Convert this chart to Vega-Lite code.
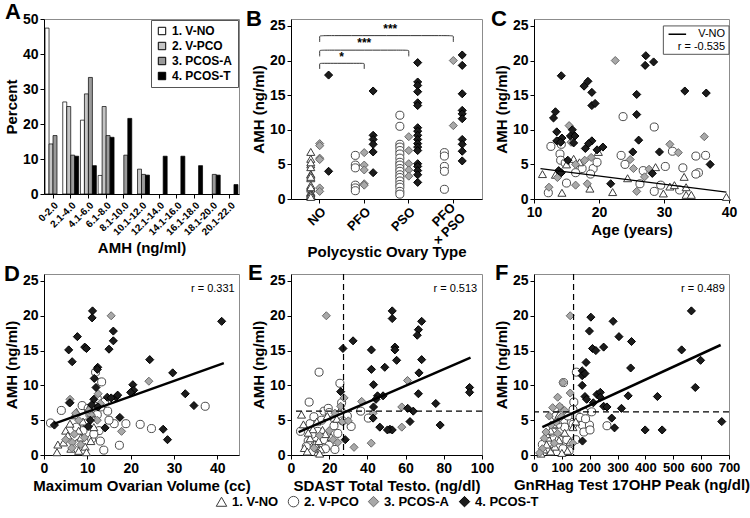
{
 "$schema": "https://vega.github.io/schema/vega-lite/v6.json",
 "padding": {"left": 3, "right": 0, "top": 0, "bottom": 3},
 "columns": 3,
 "bounds": "flush",
 "spacing": {"row": 75, "column": 52},
 "resolve": {
  "scale": {"x": "independent", "y": "independent", "xOffset": "independent", "color": "independent", "fill": "shared", "stroke": "shared", "shape": "shared"},
  "legend": {"color": "independent", "fill": "shared", "stroke": "shared", "shape": "shared"}
 },
 "datasets": {
  "histo": [
   {"bin": "0-2.0", "g": "V-NO", "pct": 47.4}, {"bin": "0-2.0", "g": "V-PCO", "pct": 14.3}, {"bin": "0-2.0", "g": "PCOS-A", "pct": 16.7},
   {"bin": "2.1-4.0", "g": "V-NO", "pct": 26.3}, {"bin": "2.1-4.0", "g": "V-PCO", "pct": 25.0}, {"bin": "2.1-4.0", "g": "PCOS-A", "pct": 11.1}, {"bin": "2.1-4.0", "g": "PCOS-T", "pct": 10.8},
   {"bin": "4.1-6.0", "g": "V-NO", "pct": 21.1}, {"bin": "4.1-6.0", "g": "V-PCO", "pct": 28.6}, {"bin": "4.1-6.0", "g": "PCOS-A", "pct": 33.3}, {"bin": "4.1-6.0", "g": "PCOS-T", "pct": 8.1},
   {"bin": "6.1-8.0", "g": "V-NO", "pct": 5.3}, {"bin": "6.1-8.0", "g": "V-PCO", "pct": 25.0}, {"bin": "6.1-8.0", "g": "PCOS-A", "pct": 16.7}, {"bin": "6.1-8.0", "g": "PCOS-T", "pct": 16.2},
   {"bin": "8.1-10.0", "g": "PCOS-A", "pct": 11.1}, {"bin": "8.1-10.0", "g": "PCOS-T", "pct": 21.6},
   {"bin": "10.1-12.0", "g": "V-PCO", "pct": 7.1}, {"bin": "10.1-12.0", "g": "PCOS-A", "pct": 5.6}, {"bin": "10.1-12.0", "g": "PCOS-T", "pct": 5.4},
   {"bin": "12.1-14.0", "g": "PCOS-T", "pct": 10.8},
   {"bin": "14.1-16.0", "g": "PCOS-T", "pct": 10.8},
   {"bin": "16.1-18.0", "g": "PCOS-T", "pct": 8.1},
   {"bin": "18.1-20.0", "g": "PCOS-A", "pct": 5.6}, {"bin": "18.1-20.0", "g": "PCOS-T", "pct": 5.4},
   {"bin": "20.1-22.0", "g": "PCOS-T", "pct": 2.7}
  ],
  "cohorts": [
   {"g": "V-NO", "cohort": "Volunteer"}, {"g": "V-PCO", "cohort": "Volunteer"}, {"g": "PCOS-A", "cohort": "PCOS-A"}, {"g": "PCOS-T", "cohort": "PCOS-T"}
  ],
  "bData": [
   {"t": "NO", "g": "V-NO", "amh": 3.6}, {"t": "NO", "g": "V-NO", "amh": 3.5}, {"t": "NO", "g": "V-NO", "amh": 0.9}, {"t": "NO", "g": "V-NO", "amh": 5.8}, {"t": "NO", "g": "V-NO", "amh": 5.0}, {"t": "NO", "g": "V-NO", "amh": 1.5}, {"t": "NO", "g": "V-NO", "amh": 6.8}, {"t": "NO", "g": "V-NO", "amh": 1.0}, {"t": "NO", "g": "V-NO", "amh": 3.0}, {"t": "NO", "g": "V-NO", "amh": 4.6}, {"t": "NO", "g": "V-NO", "amh": 0.8}, {"t": "NO", "g": "V-NO", "amh": 1.8}, {"t": "NO", "g": "V-NO", "amh": 2.0}, {"t": "NO", "g": "V-NO", "amh": 3.2}, {"t": "NO", "g": "V-NO", "amh": 1.7}, {"t": "NO", "g": "V-NO", "amh": 0.6}, {"t": "NO", "g": "V-NO", "amh": 0.6}, {"t": "NO", "g": "V-NO", "amh": 0.3}, {"t": "NO", "g": "V-NO", "amh": 5.3},
   {"t": "NO", "g": "PCOS-A", "amh": 8.0}, {"t": "NO", "g": "PCOS-A", "amh": 7.7}, {"t": "NO", "g": "PCOS-A", "amh": 5.9}, {"t": "NO", "g": "PCOS-A", "amh": 5.7}, {"t": "NO", "g": "PCOS-A", "amh": 1.6}, {"t": "NO", "g": "PCOS-A", "amh": 1.1},
   {"t": "NO", "g": "PCOS-T", "amh": 17.9}, {"t": "NO", "g": "PCOS-T", "amh": 4.0},
   {"t": "PFO", "g": "V-PCO", "amh": 6.3}, {"t": "PFO", "g": "V-PCO", "amh": 4.9}, {"t": "PFO", "g": "V-PCO", "amh": 4.5}, {"t": "PFO", "g": "V-PCO", "amh": 2.0}, {"t": "PFO", "g": "V-PCO", "amh": 1.6}, {"t": "PFO", "g": "V-PCO", "amh": 1.2},
   {"t": "PFO", "g": "PCOS-A", "amh": 6.7}, {"t": "PFO", "g": "PCOS-A", "amh": 4.9}, {"t": "PFO", "g": "PCOS-A", "amh": 4.2}, {"t": "PFO", "g": "PCOS-A", "amh": 2.2}, {"t": "PFO", "g": "PCOS-A", "amh": 2.0},
   {"t": "PFO", "g": "PCOS-T", "amh": 15.6}, {"t": "PFO", "g": "PCOS-T", "amh": 9.2}, {"t": "PFO", "g": "PCOS-T", "amh": 8.6}, {"t": "PFO", "g": "PCOS-T", "amh": 7.9}, {"t": "PFO", "g": "PCOS-T", "amh": 6.8}, {"t": "PFO", "g": "PCOS-T", "amh": 3.8},
   {"t": "PSO", "g": "V-PCO", "amh": 12.1}, {"t": "PSO", "g": "V-PCO", "amh": 10.5}, {"t": "PSO", "g": "V-PCO", "amh": 7.9}, {"t": "PSO", "g": "V-PCO", "amh": 7.5}, {"t": "PSO", "g": "V-PCO", "amh": 7.0}, {"t": "PSO", "g": "V-PCO", "amh": 6.5}, {"t": "PSO", "g": "V-PCO", "amh": 5.9}, {"t": "PSO", "g": "V-PCO", "amh": 5.3}, {"t": "PSO", "g": "V-PCO", "amh": 4.9}, {"t": "PSO", "g": "V-PCO", "amh": 4.4}, {"t": "PSO", "g": "V-PCO", "amh": 4.0}, {"t": "PSO", "g": "V-PCO", "amh": 3.5}, {"t": "PSO", "g": "V-PCO", "amh": 3.1}, {"t": "PSO", "g": "V-PCO", "amh": 2.6}, {"t": "PSO", "g": "V-PCO", "amh": 2.1}, {"t": "PSO", "g": "V-PCO", "amh": 1.7}, {"t": "PSO", "g": "V-PCO", "amh": 1.1}, {"t": "PSO", "g": "V-PCO", "amh": 0.7},
   {"t": "PSO", "g": "PCOS-A", "amh": 9.0}, {"t": "PSO", "g": "PCOS-A", "amh": 7.0}, {"t": "PSO", "g": "PCOS-A", "amh": 5.1}, {"t": "PSO", "g": "PCOS-A", "amh": 4.2}, {"t": "PSO", "g": "PCOS-A", "amh": 3.3},
   {"t": "PSO", "g": "PCOS-T", "amh": 19.7}, {"t": "PSO", "g": "PCOS-T", "amh": 16.9}, {"t": "PSO", "g": "PCOS-T", "amh": 16.4}, {"t": "PSO", "g": "PCOS-T", "amh": 15.5}, {"t": "PSO", "g": "PCOS-T", "amh": 13.9}, {"t": "PSO", "g": "PCOS-T", "amh": 13.5}, {"t": "PSO", "g": "PCOS-T", "amh": 10.3}, {"t": "PSO", "g": "PCOS-T", "amh": 9.8}, {"t": "PSO", "g": "PCOS-T", "amh": 9.2}, {"t": "PSO", "g": "PCOS-T", "amh": 8.6}, {"t": "PSO", "g": "PCOS-T", "amh": 8.0}, {"t": "PSO", "g": "PCOS-T", "amh": 7.5}, {"t": "PSO", "g": "PCOS-T", "amh": 7.0}, {"t": "PSO", "g": "PCOS-T", "amh": 5.1}, {"t": "PSO", "g": "PCOS-T", "amh": 4.7}, {"t": "PSO", "g": "PCOS-T", "amh": 4.1}, {"t": "PSO", "g": "PCOS-T", "amh": 3.5}, {"t": "PSO", "g": "PCOS-T", "amh": 2.4},
   {"t": "PFO×PSO", "g": "V-PCO", "amh": 6.7}, {"t": "PFO×PSO", "g": "V-PCO", "amh": 6.2}, {"t": "PFO×PSO", "g": "V-PCO", "amh": 4.7}, {"t": "PFO×PSO", "g": "V-PCO", "amh": 4.0}, {"t": "PFO×PSO", "g": "V-PCO", "amh": 1.4},
   {"t": "PFO×PSO", "g": "PCOS-A", "amh": 20.0}, {"t": "PFO×PSO", "g": "PCOS-A", "amh": 10.6},
   {"t": "PFO×PSO", "g": "PCOS-T", "amh": 20.8}, {"t": "PFO×PSO", "g": "PCOS-T", "amh": 19.3}, {"t": "PFO×PSO", "g": "PCOS-T", "amh": 15.2}, {"t": "PFO×PSO", "g": "PCOS-T", "amh": 12.8}, {"t": "PFO×PSO", "g": "PCOS-T", "amh": 12.3}, {"t": "PFO×PSO", "g": "PCOS-T", "amh": 11.6}, {"t": "PFO×PSO", "g": "PCOS-T", "amh": 8.6}, {"t": "PFO×PSO", "g": "PCOS-T", "amh": 7.9}, {"t": "PFO×PSO", "g": "PCOS-T", "amh": 6.9}, {"t": "PFO×PSO", "g": "PCOS-T", "amh": 5.5}
  ],
  "brackets": [
   {"br": 1, "o": 1, "t": "NO", "amh": 18.8}, {"br": 1, "o": 2, "t": "NO", "amh": 19.6}, {"br": 1, "o": 3, "t": "NO", "amh": 19.6}, {"br": 1, "o": 4, "t": "PFO", "amh": 19.6}, {"br": 1, "o": 5, "t": "PFO", "amh": 19.6}, {"br": 1, "o": 6, "t": "PFO", "amh": 18.8},
   {"br": 2, "o": 1, "t": "NO", "amh": 20.6}, {"br": 2, "o": 2, "t": "NO", "amh": 21.5}, {"br": 2, "o": 3, "t": "NO", "amh": 21.5}, {"br": 2, "o": 4, "t": "PSO", "amh": 21.5}, {"br": 2, "o": 5, "t": "PSO", "amh": 21.5}, {"br": 2, "o": 6, "t": "PSO", "amh": 20.6},
   {"br": 3, "o": 1, "t": "NO", "amh": 22.7}, {"br": 3, "o": 2, "t": "NO", "amh": 23.6}, {"br": 3, "o": 3, "t": "NO", "amh": 23.6}, {"br": 3, "o": 4, "t": "PFO×PSO", "amh": 23.6}, {"br": 3, "o": 5, "t": "PFO×PSO", "amh": 23.6}, {"br": 3, "o": 6, "t": "PFO×PSO", "amh": 22.7}
  ],
  "cData": [
   {"g": "V-PCO", "age": 23.7, "amh": 11.9}, {"g": "V-PCO", "age": 28.5, "amh": 10.4}, {"g": "V-PCO", "age": 12.6, "amh": 7.6}, {"g": "V-PCO", "age": 14.2, "amh": 7.9}, {"g": "V-PCO", "age": 14.0, "amh": 6.5}, {"g": "V-PCO", "age": 14.1, "amh": 5.6}, {"g": "V-PCO", "age": 17.4, "amh": 4.4}, {"g": "V-PCO", "age": 19.1, "amh": 4.4}, {"g": "V-PCO", "age": 19.7, "amh": 5.3}, {"g": "V-PCO", "age": 23.4, "amh": 6.3}, {"g": "V-PCO", "age": 24.0, "amh": 5.0}, {"g": "V-PCO", "age": 26.8, "amh": 4.1}, {"g": "V-PCO", "age": 26.3, "amh": 2.2}, {"g": "V-PCO", "age": 30.2, "amh": 4.7}, {"g": "V-PCO", "age": 31.3, "amh": 6.9}, {"g": "V-PCO", "age": 32.9, "amh": 4.5}, {"g": "V-PCO", "age": 34.9, "amh": 6.2}, {"g": "V-PCO", "age": 35.3, "amh": 3.8}, {"g": "V-PCO", "age": 36.4, "amh": 6.3}, {"g": "V-PCO", "age": 12.2, "amh": 0.9}, {"g": "V-PCO", "age": 15.0, "amh": 2.3}, {"g": "V-PCO", "age": 28.5, "amh": 1.1}, {"g": "V-PCO", "age": 29.5, "amh": 2.0}, {"g": "V-PCO", "age": 32.4, "amh": 1.3}, {"g": "V-PCO", "age": 34.9, "amh": 3.6}, {"g": "V-PCO", "age": 16.4, "amh": 3.8}, {"g": "V-PCO", "age": 14.8, "amh": 5.2}, {"g": "V-PCO", "age": 18.7, "amh": 3.6},
   {"g": "V-NO", "age": 11.3, "amh": 3.6}, {"g": "V-NO", "age": 13.3, "amh": 3.5}, {"g": "V-NO", "age": 14.3, "amh": 0.9}, {"g": "V-NO", "age": 16.1, "amh": 5.8}, {"g": "V-NO", "age": 15.0, "amh": 5.0}, {"g": "V-NO", "age": 18.6, "amh": 1.5}, {"g": "V-NO", "age": 19.9, "amh": 6.8}, {"g": "V-NO", "age": 22.1, "amh": 1.0}, {"g": "V-NO", "age": 24.4, "amh": 3.0}, {"g": "V-NO", "age": 28.7, "amh": 4.6}, {"g": "V-NO", "age": 29.9, "amh": 0.8}, {"g": "V-NO", "age": 30.9, "amh": 1.8}, {"g": "V-NO", "age": 31.6, "amh": 2.0}, {"g": "V-NO", "age": 33.1, "amh": 3.2}, {"g": "V-NO", "age": 33.4, "amh": 1.7}, {"g": "V-NO", "age": 33.4, "amh": 0.6}, {"g": "V-NO", "age": 34.2, "amh": 0.6}, {"g": "V-NO", "age": 39.6, "amh": 0.3}, {"g": "V-NO", "age": 17.0, "amh": 5.3},
   {"g": "PCOS-A", "age": 22.5, "amh": 20.0}, {"g": "PCOS-A", "age": 15.4, "amh": 10.6}, {"g": "PCOS-A", "age": 15.7, "amh": 8.2}, {"g": "PCOS-A", "age": 18.8, "amh": 6.0}, {"g": "PCOS-A", "age": 24.8, "amh": 5.7}, {"g": "PCOS-A", "age": 25.3, "amh": 4.4}, {"g": "PCOS-A", "age": 27.0, "amh": 3.2}, {"g": "PCOS-A", "age": 27.7, "amh": 4.3}, {"g": "PCOS-A", "age": 30.9, "amh": 7.9}, {"g": "PCOS-A", "age": 32.2, "amh": 6.7}, {"g": "PCOS-A", "age": 36.2, "amh": 9.0}, {"g": "PCOS-A", "age": 12.3, "amh": 1.7}, {"g": "PCOS-A", "age": 16.4, "amh": 2.0}, {"g": "PCOS-A", "age": 18.2, "amh": 2.2}, {"g": "PCOS-A", "age": 25.8, "amh": 1.1}, {"g": "PCOS-A", "age": 13.6, "amh": 3.1}, {"g": "PCOS-A", "age": 16.4, "amh": 5.0}, {"g": "PCOS-A", "age": 17.8, "amh": 5.6},
   {"g": "PCOS-T", "age": 14.2, "amh": 17.8}, {"g": "PCOS-T", "age": 17.7, "amh": 16.3}, {"g": "PCOS-T", "age": 18.3, "amh": 17.0}, {"g": "PCOS-T", "age": 18.9, "amh": 15.4}, {"g": "PCOS-T", "age": 18.9, "amh": 13.5}, {"g": "PCOS-T", "age": 19.4, "amh": 13.8}, {"g": "PCOS-T", "age": 13.3, "amh": 12.6}, {"g": "PCOS-T", "age": 13.0, "amh": 11.7}, {"g": "PCOS-T", "age": 13.5, "amh": 9.7}, {"g": "PCOS-T", "age": 15.9, "amh": 10.0}, {"g": "PCOS-T", "age": 15.6, "amh": 9.1}, {"g": "PCOS-T", "age": 14.3, "amh": 8.8}, {"g": "PCOS-T", "age": 13.5, "amh": 8.4}, {"g": "PCOS-T", "age": 16.3, "amh": 9.1}, {"g": "PCOS-T", "age": 18.9, "amh": 8.4}, {"g": "PCOS-T", "age": 18.4, "amh": 8.0}, {"g": "PCOS-T", "age": 17.9, "amh": 7.3}, {"g": "PCOS-T", "age": 19.7, "amh": 7.1}, {"g": "PCOS-T", "age": 20.6, "amh": 7.5}, {"g": "PCOS-T", "age": 15.2, "amh": 5.6}, {"g": "PCOS-T", "age": 13.8, "amh": 4.1}, {"g": "PCOS-T", "age": 14.2, "amh": 3.8}, {"g": "PCOS-T", "age": 21.8, "amh": 2.2}, {"g": "PCOS-T", "age": 25.8, "amh": 15.1}, {"g": "PCOS-T", "age": 25.8, "amh": 12.2}, {"g": "PCOS-T", "age": 26.1, "amh": 8.5}, {"g": "PCOS-T", "age": 25.2, "amh": 6.8}, {"g": "PCOS-T", "age": 27.2, "amh": 20.7}, {"g": "PCOS-T", "age": 27.1, "amh": 19.3}, {"g": "PCOS-T", "age": 28.4, "amh": 19.8}, {"g": "PCOS-T", "age": 28.2, "amh": 3.7}, {"g": "PCOS-T", "age": 29.3, "amh": 6.8}, {"g": "PCOS-T", "age": 33.2, "amh": 15.6}, {"g": "PCOS-T", "age": 36.5, "amh": 15.3}, {"g": "PCOS-T", "age": 37.1, "amh": 5.0}, {"g": "PCOS-T", "age": 16.1, "amh": 8.1}, {"g": "PCOS-T", "age": 14.1, "amh": 8.2}
  ],
  "dData": [
   {"g": "V-PCO", "vol": 11.9, "amh": 11.9}, {"g": "V-PCO", "vol": 13.3, "amh": 10.5}, {"g": "V-PCO", "vol": 4.0, "amh": 6.4}, {"g": "V-PCO", "vol": 1.5, "amh": 4.6}, {"g": "V-PCO", "vol": 14.7, "amh": 6.3}, {"g": "V-PCO", "vol": 12.3, "amh": 8.1}, {"g": "V-PCO", "vol": 13.1, "amh": 6.9}, {"g": "V-PCO", "vol": 10.6, "amh": 5.8}, {"g": "V-PCO", "vol": 12.3, "amh": 5.8}, {"g": "V-PCO", "vol": 9.9, "amh": 4.6}, {"g": "V-PCO", "vol": 12.7, "amh": 3.5}, {"g": "V-PCO", "vol": 11.0, "amh": 2.3}, {"g": "V-PCO", "vol": 13.8, "amh": 0.7}, {"g": "V-PCO", "vol": 17.4, "amh": 1.4}, {"g": "V-PCO", "vol": 16.2, "amh": 4.5}, {"g": "V-PCO", "vol": 18.9, "amh": 4.5}, {"g": "V-PCO", "vol": 22.2, "amh": 4.4}, {"g": "V-PCO", "vol": 24.8, "amh": 3.8}, {"g": "V-PCO", "vol": 37.2, "amh": 7.0}, {"g": "V-PCO", "vol": 8.8, "amh": 7.1}, {"g": "V-PCO", "vol": 14.0, "amh": 7.6}, {"g": "V-PCO", "vol": 11.5, "amh": 3.0}, {"g": "V-PCO", "vol": 9.0, "amh": 3.5}, {"g": "V-PCO", "vol": 10.2, "amh": 6.7}, {"g": "V-PCO", "vol": 7.5, "amh": 4.0}, {"g": "V-PCO", "vol": 15.0, "amh": 5.0}, {"g": "V-PCO", "vol": 8.0, "amh": 1.7}, {"g": "V-PCO", "vol": 13.0, "amh": 2.0},
   {"g": "V-NO", "vol": 3.0, "amh": 0.4}, {"g": "V-NO", "vol": 3.2, "amh": 1.5}, {"g": "V-NO", "vol": 5.0, "amh": 3.5}, {"g": "V-NO", "vol": 6.0, "amh": 4.5}, {"g": "V-NO", "vol": 5.5, "amh": 2.8}, {"g": "V-NO", "vol": 7.0, "amh": 5.7}, {"g": "V-NO", "vol": 8.0, "amh": 3.5}, {"g": "V-NO", "vol": 8.5, "amh": 2.5}, {"g": "V-NO", "vol": 9.5, "amh": 1.2}, {"g": "V-NO", "vol": 9.8, "amh": 0.4}, {"g": "V-NO", "vol": 10.3, "amh": 6.7}, {"g": "V-NO", "vol": 11.0, "amh": 6.0}, {"g": "V-NO", "vol": 9.0, "amh": 4.8}, {"g": "V-NO", "vol": 7.5, "amh": 6.2}, {"g": "V-NO", "vol": 6.2, "amh": 0.9}, {"g": "V-NO", "vol": 11.5, "amh": 4.0}, {"g": "V-NO", "vol": 4.5, "amh": 1.8}, {"g": "V-NO", "vol": 8.0, "amh": 0.6}, {"g": "V-NO", "vol": 10.8, "amh": 2.0},
   {"g": "PCOS-A", "vol": 15.5, "amh": 20.0}, {"g": "PCOS-A", "vol": 24.2, "amh": 10.6}, {"g": "PCOS-A", "vol": 6.0, "amh": 8.0}, {"g": "PCOS-A", "vol": 5.8, "amh": 7.5}, {"g": "PCOS-A", "vol": 12.5, "amh": 8.8}, {"g": "PCOS-A", "vol": 17.9, "amh": 3.4}, {"g": "PCOS-A", "vol": 7.3, "amh": 6.0}, {"g": "PCOS-A", "vol": 8.0, "amh": 5.0}, {"g": "PCOS-A", "vol": 5.0, "amh": 2.2}, {"g": "PCOS-A", "vol": 6.5, "amh": 1.8}, {"g": "PCOS-A", "vol": 7.0, "amh": 3.0}, {"g": "PCOS-A", "vol": 9.3, "amh": 2.5}, {"g": "PCOS-A", "vol": 10.8, "amh": 5.8}, {"g": "PCOS-A", "vol": 12.3, "amh": 5.0}, {"g": "PCOS-A", "vol": 13.0, "amh": 7.4}, {"g": "PCOS-A", "vol": 10.5, "amh": 6.5}, {"g": "PCOS-A", "vol": 6.4, "amh": 1.0}, {"g": "PCOS-A", "vol": 8.5, "amh": 1.5},
   {"g": "PCOS-T", "vol": 11.2, "amh": 20.7}, {"g": "PCOS-T", "vol": 11.1, "amh": 19.7}, {"g": "PCOS-T", "vol": 7.7, "amh": 17.0}, {"g": "PCOS-T", "vol": 5.7, "amh": 15.1}, {"g": "PCOS-T", "vol": 6.5, "amh": 13.4}, {"g": "PCOS-T", "vol": 9.4, "amh": 15.5}, {"g": "PCOS-T", "vol": 9.8, "amh": 15.3}, {"g": "PCOS-T", "vol": 16.0, "amh": 17.8}, {"g": "PCOS-T", "vol": 16.0, "amh": 16.4}, {"g": "PCOS-T", "vol": 15.0, "amh": 15.2}, {"g": "PCOS-T", "vol": 12.4, "amh": 12.6}, {"g": "PCOS-T", "vol": 24.4, "amh": 13.7}, {"g": "PCOS-T", "vol": 29.7, "amh": 11.8}, {"g": "PCOS-T", "vol": 20.5, "amh": 10.1}, {"g": "PCOS-T", "vol": 20.7, "amh": 9.3}, {"g": "PCOS-T", "vol": 12.0, "amh": 9.7}, {"g": "PCOS-T", "vol": 11.5, "amh": 8.0}, {"g": "PCOS-T", "vol": 14.6, "amh": 8.3}, {"g": "PCOS-T", "vol": 16.6, "amh": 8.3}, {"g": "PCOS-T", "vol": 17.0, "amh": 8.6}, {"g": "PCOS-T", "vol": 32.6, "amh": 8.8}, {"g": "PCOS-T", "vol": 34.6, "amh": 7.1}, {"g": "PCOS-T", "vol": 41.0, "amh": 19.2}, {"g": "PCOS-T", "vol": 17.5, "amh": 5.4}, {"g": "PCOS-T", "vol": 14.1, "amh": 3.9}, {"g": "PCOS-T", "vol": 10.7, "amh": 5.0}, {"g": "PCOS-T", "vol": 10.2, "amh": 4.1}, {"g": "PCOS-T", "vol": 27.5, "amh": 3.7}, {"g": "PCOS-T", "vol": 28.5, "amh": 2.2}, {"g": "PCOS-T", "vol": 2.4, "amh": 4.3}, {"g": "PCOS-T", "vol": 11.6, "amh": 11.0}, {"g": "PCOS-T", "vol": 12.3, "amh": 12.3}, {"g": "PCOS-T", "vol": 20.0, "amh": 9.0}, {"g": "PCOS-T", "vol": 11.0, "amh": 7.2}, {"g": "PCOS-T", "vol": 6.0, "amh": 7.5}, {"g": "PCOS-T", "vol": 15.5, "amh": 8.2}, {"g": "PCOS-T", "vol": 12.5, "amh": 6.9}
  ],
  "eData": [
   {"g": "V-PCO", "testo": 14.7, "amh": 11.9}, {"g": "V-PCO", "testo": 25.6, "amh": 10.3}, {"g": "V-PCO", "testo": 9.5, "amh": 7.6}, {"g": "V-PCO", "testo": 17.3, "amh": 6.3}, {"g": "V-PCO", "testo": 19.5, "amh": 6.7}, {"g": "V-PCO", "testo": 22.0, "amh": 5.4}, {"g": "V-PCO", "testo": 26.5, "amh": 7.5}, {"g": "V-PCO", "testo": 29.5, "amh": 5.6}, {"g": "V-PCO", "testo": 31.5, "amh": 4.1}, {"g": "V-PCO", "testo": 36.5, "amh": 6.3}, {"g": "V-PCO", "testo": 40.5, "amh": 5.3}, {"g": "V-PCO", "testo": 27.0, "amh": 4.9}, {"g": "V-PCO", "testo": 5.0, "amh": 3.4}, {"g": "V-PCO", "testo": 10.0, "amh": 4.5}, {"g": "V-PCO", "testo": 14.0, "amh": 3.4}, {"g": "V-PCO", "testo": 17.5, "amh": 2.2}, {"g": "V-PCO", "testo": 20.0, "amh": 1.4}, {"g": "V-PCO", "testo": 9.0, "amh": 2.0}, {"g": "V-PCO", "testo": 13.0, "amh": 1.0}, {"g": "V-PCO", "testo": 22.5, "amh": 4.2}, {"g": "V-PCO", "testo": 24.5, "amh": 3.1}, {"g": "V-PCO", "testo": 18.0, "amh": 0.9}, {"g": "V-PCO", "testo": 11.0, "amh": 3.0}, {"g": "V-PCO", "testo": 16.0, "amh": 5.0}, {"g": "V-PCO", "testo": 23.0, "amh": 0.8}, {"g": "V-PCO", "testo": 12.0, "amh": 5.5}, {"g": "V-PCO", "testo": 8.0, "amh": 1.2}, {"g": "V-PCO", "testo": 20.0, "amh": 6.1},
   {"g": "V-NO", "testo": 5.5, "amh": 5.8}, {"g": "V-NO", "testo": 6.5, "amh": 4.4}, {"g": "V-NO", "testo": 7.0, "amh": 1.0}, {"g": "V-NO", "testo": 8.5, "amh": 0.5}, {"g": "V-NO", "testo": 10.0, "amh": 2.4}, {"g": "V-NO", "testo": 11.5, "amh": 3.7}, {"g": "V-NO", "testo": 12.5, "amh": 1.6}, {"g": "V-NO", "testo": 14.0, "amh": 0.4}, {"g": "V-NO", "testo": 15.5, "amh": 0.8}, {"g": "V-NO", "testo": 13.5, "amh": 4.8}, {"g": "V-NO", "testo": 16.5, "amh": 3.6}, {"g": "V-NO", "testo": 19.0, "amh": 5.6}, {"g": "V-NO", "testo": 21.0, "amh": 2.6}, {"g": "V-NO", "testo": 26.5, "amh": 6.8}, {"g": "V-NO", "testo": 24.0, "amh": 5.2}, {"g": "V-NO", "testo": 18.0, "amh": 3.0}, {"g": "V-NO", "testo": 9.0, "amh": 3.2}, {"g": "V-NO", "testo": 14.5, "amh": 2.0}, {"g": "V-NO", "testo": 15.0, "amh": 0.2},
   {"g": "PCOS-A", "testo": 18.5, "amh": 20.0}, {"g": "PCOS-A", "testo": 61.0, "amh": 10.7}, {"g": "PCOS-A", "testo": 27.8, "amh": 8.2}, {"g": "PCOS-A", "testo": 26.0, "amh": 7.0}, {"g": "PCOS-A", "testo": 23.0, "amh": 6.0}, {"g": "PCOS-A", "testo": 37.0, "amh": 7.7}, {"g": "PCOS-A", "testo": 43.0, "amh": 6.0}, {"g": "PCOS-A", "testo": 42.0, "amh": 1.7}, {"g": "PCOS-A", "testo": 33.0, "amh": 1.1}, {"g": "PCOS-A", "testo": 58.0, "amh": 6.9}, {"g": "PCOS-A", "testo": 58.0, "amh": 4.0}, {"g": "PCOS-A", "testo": 27.0, "amh": 4.8}, {"g": "PCOS-A", "testo": 20.0, "amh": 3.5}, {"g": "PCOS-A", "testo": 22.0, "amh": 2.2}, {"g": "PCOS-A", "testo": 24.5, "amh": 1.8}, {"g": "PCOS-A", "testo": 30.0, "amh": 4.9}, {"g": "PCOS-A", "testo": 15.0, "amh": 2.8}, {"g": "PCOS-A", "testo": 12.0, "amh": 1.0},
   {"g": "PCOS-T", "testo": 53.0, "amh": 20.7}, {"g": "PCOS-T", "testo": 53.0, "amh": 19.6}, {"g": "PCOS-T", "testo": 32.5, "amh": 16.4}, {"g": "PCOS-T", "testo": 27.2, "amh": 15.3}, {"g": "PCOS-T", "testo": 42.1, "amh": 15.1}, {"g": "PCOS-T", "testo": 54.4, "amh": 15.5}, {"g": "PCOS-T", "testo": 54.4, "amh": 15.1}, {"g": "PCOS-T", "testo": 55.3, "amh": 13.6}, {"g": "PCOS-T", "testo": 42.1, "amh": 12.3}, {"g": "PCOS-T", "testo": 49.1, "amh": 12.6}, {"g": "PCOS-T", "testo": 43.2, "amh": 10.1}, {"g": "PCOS-T", "testo": 45.3, "amh": 8.5}, {"g": "PCOS-T", "testo": 48.2, "amh": 8.5}, {"g": "PCOS-T", "testo": 43.2, "amh": 6.9}, {"g": "PCOS-T", "testo": 43.0, "amh": 5.3}, {"g": "PCOS-T", "testo": 46.5, "amh": 4.0}, {"g": "PCOS-T", "testo": 51.8, "amh": 3.7}, {"g": "PCOS-T", "testo": 53.0, "amh": 3.6}, {"g": "PCOS-T", "testo": 61.1, "amh": 6.7}, {"g": "PCOS-T", "testo": 62.3, "amh": 4.8}, {"g": "PCOS-T", "testo": 68.4, "amh": 19.2}, {"g": "PCOS-T", "testo": 66.7, "amh": 18.0}, {"g": "PCOS-T", "testo": 66.1, "amh": 17.2}, {"g": "PCOS-T", "testo": 68.4, "amh": 13.7}, {"g": "PCOS-T", "testo": 67.0, "amh": 11.8}, {"g": "PCOS-T", "testo": 66.7, "amh": 8.8}, {"g": "PCOS-T", "testo": 75.8, "amh": 7.4}, {"g": "PCOS-T", "testo": 78.1, "amh": 4.3}, {"g": "PCOS-T", "testo": 93.5, "amh": 9.7}, {"g": "PCOS-T", "testo": 93.5, "amh": 9.0}, {"g": "PCOS-T", "testo": 26.0, "amh": 9.1}, {"g": "PCOS-T", "testo": 28.4, "amh": 2.2}, {"g": "PCOS-T", "testo": 50.5, "amh": 3.6}, {"g": "PCOS-T", "testo": 64.0, "amh": 6.3}, {"g": "PCOS-T", "testo": 44.5, "amh": 8.0}
  ],
  "fData": [
   {"g": "V-PCO", "ohp": 152, "amh": 11.9}, {"g": "V-PCO", "ohp": 106, "amh": 10.4}, {"g": "V-PCO", "ohp": 143, "amh": 7.6}, {"g": "V-PCO", "ohp": 179, "amh": 6.2}, {"g": "V-PCO", "ohp": 207, "amh": 6.2}, {"g": "V-PCO", "ohp": 134, "amh": 4.7}, {"g": "V-PCO", "ohp": 174, "amh": 4.3}, {"g": "V-PCO", "ohp": 199, "amh": 4.3}, {"g": "V-PCO", "ohp": 179, "amh": 3.3}, {"g": "V-PCO", "ohp": 201, "amh": 3.6}, {"g": "V-PCO", "ohp": 150, "amh": 2.2}, {"g": "V-PCO", "ohp": 126, "amh": 0.6}, {"g": "V-PCO", "ohp": 104, "amh": 0.9}, {"g": "V-PCO", "ohp": 110, "amh": 4.0}, {"g": "V-PCO", "ohp": 49, "amh": 1.7}, {"g": "V-PCO", "ohp": 67, "amh": 3.3}, {"g": "V-PCO", "ohp": 262, "amh": 4.2}, {"g": "V-PCO", "ohp": 79, "amh": 5.6}, {"g": "V-PCO", "ohp": 122, "amh": 5.6}, {"g": "V-PCO", "ohp": 91, "amh": 2.2}, {"g": "V-PCO", "ohp": 140, "amh": 4.4}, {"g": "V-PCO", "ohp": 55, "amh": 0.6}, {"g": "V-PCO", "ohp": 30, "amh": 1.5}, {"g": "V-PCO", "ohp": 165, "amh": 5.4}, {"g": "V-PCO", "ohp": 185, "amh": 5.2}, {"g": "V-PCO", "ohp": 85, "amh": 4.4}, {"g": "V-PCO", "ohp": 118, "amh": 2.2}, {"g": "V-PCO", "ohp": 140, "amh": 6.5},
   {"g": "V-NO", "ohp": 25, "amh": 0.2}, {"g": "V-NO", "ohp": 35, "amh": 0.8}, {"g": "V-NO", "ohp": 45, "amh": 1.5}, {"g": "V-NO", "ohp": 50, "amh": 2.5}, {"g": "V-NO", "ohp": 60, "amh": 3.5}, {"g": "V-NO", "ohp": 70, "amh": 4.4}, {"g": "V-NO", "ohp": 80, "amh": 5.0}, {"g": "V-NO", "ohp": 90, "amh": 5.8}, {"g": "V-NO", "ohp": 100, "amh": 6.8}, {"g": "V-NO", "ohp": 60, "amh": 0.5}, {"g": "V-NO", "ohp": 75, "amh": 1.2}, {"g": "V-NO", "ohp": 90, "amh": 2.1}, {"g": "V-NO", "ohp": 110, "amh": 3.2}, {"g": "V-NO", "ohp": 120, "amh": 0.6}, {"g": "V-NO", "ohp": 130, "amh": 1.9}, {"g": "V-NO", "ohp": 140, "amh": 4.0}, {"g": "V-NO", "ohp": 150, "amh": 4.8}, {"g": "V-NO", "ohp": 45, "amh": 3.0}, {"g": "V-NO", "ohp": 100, "amh": 0.3},
   {"g": "PCOS-A", "ohp": 130, "amh": 20.0}, {"g": "PCOS-A", "ohp": 104, "amh": 10.4}, {"g": "PCOS-A", "ohp": 130, "amh": 8.9}, {"g": "PCOS-A", "ohp": 85, "amh": 8.3}, {"g": "PCOS-A", "ohp": 92, "amh": 7.0}, {"g": "PCOS-A", "ohp": 67, "amh": 6.8}, {"g": "PCOS-A", "ohp": 55, "amh": 5.6}, {"g": "PCOS-A", "ohp": 98, "amh": 5.5}, {"g": "PCOS-A", "ohp": 79, "amh": 4.7}, {"g": "PCOS-A", "ohp": 85, "amh": 3.1}, {"g": "PCOS-A", "ohp": 37, "amh": 2.4}, {"g": "PCOS-A", "ohp": 30, "amh": 0.9}, {"g": "PCOS-A", "ohp": 139, "amh": 1.7}, {"g": "PCOS-A", "ohp": 20, "amh": 0.3}, {"g": "PCOS-A", "ohp": 61, "amh": 4.3}, {"g": "PCOS-A", "ohp": 110, "amh": 6.4}, {"g": "PCOS-A", "ohp": 73, "amh": 1.7}, {"g": "PCOS-A", "ohp": 43, "amh": 3.3},
   {"g": "PCOS-T", "ohp": 565, "amh": 20.7}, {"g": "PCOS-T", "ohp": 204, "amh": 19.8}, {"g": "PCOS-T", "ohp": 199, "amh": 17.8}, {"g": "PCOS-T", "ohp": 284, "amh": 19.2}, {"g": "PCOS-T", "ohp": 305, "amh": 17.0}, {"g": "PCOS-T", "ohp": 350, "amh": 16.3}, {"g": "PCOS-T", "ohp": 210, "amh": 15.3}, {"g": "PCOS-T", "ohp": 222, "amh": 15.0}, {"g": "PCOS-T", "ohp": 250, "amh": 15.5}, {"g": "PCOS-T", "ohp": 530, "amh": 15.1}, {"g": "PCOS-T", "ohp": 598, "amh": 13.6}, {"g": "PCOS-T", "ohp": 187, "amh": 13.3}, {"g": "PCOS-T", "ohp": 347, "amh": 12.5}, {"g": "PCOS-T", "ohp": 173, "amh": 12.1}, {"g": "PCOS-T", "ohp": 173, "amh": 11.4}, {"g": "PCOS-T", "ohp": 173, "amh": 10.0}, {"g": "PCOS-T", "ohp": 183, "amh": 8.4}, {"g": "PCOS-T", "ohp": 226, "amh": 8.7}, {"g": "PCOS-T", "ohp": 238, "amh": 9.0}, {"g": "PCOS-T", "ohp": 338, "amh": 8.5}, {"g": "PCOS-T", "ohp": 443, "amh": 8.4}, {"g": "PCOS-T", "ohp": 579, "amh": 9.7}, {"g": "PCOS-T", "ohp": 250, "amh": 7.0}, {"g": "PCOS-T", "ohp": 314, "amh": 6.7}, {"g": "PCOS-T", "ohp": 279, "amh": 5.3}, {"g": "PCOS-T", "ohp": 289, "amh": 3.9}, {"g": "PCOS-T", "ohp": 399, "amh": 3.6}, {"g": "PCOS-T", "ohp": 460, "amh": 3.6}, {"g": "PCOS-T", "ohp": 674, "amh": 4.8}, {"g": "PCOS-T", "ohp": 174, "amh": 2.0}, {"g": "PCOS-T", "ohp": 189, "amh": 8.0}, {"g": "PCOS-T", "ohp": 213, "amh": 7.5}, {"g": "PCOS-T", "ohp": 238, "amh": 8.3}, {"g": "PCOS-T", "ohp": 262, "amh": 6.9}, {"g": "PCOS-T", "ohp": 183, "amh": 11.7}
  ]
 },
 "concat": [
  {
   "width": 195, "height": 175,
   "title": {"text": "A", "dx": -39},
   "data": {"name": "histo"},
   "mark": {"type": "bar", "stroke": "#000", "strokeWidth": 0.7},
   "encoding": {
    "x": {"field": "bin", "type": "ordinal", "scale": {"domain": ["0-2.0", "2.1-4.0", "4.1-6.0", "6.1-8.0", "8.1-10.0", "10.1-12.0", "12.1-14.0", "14.1-16.0", "16.1-18.0", "18.1-20.0", "20.1-22.0"], "paddingInner": 0.1, "paddingOuter": 0.06}, "axis": {"title": "AMH (ng/ml)", "labelAngle": -45, "labelFontSize": 10, "titlePadding": 4}},
    "xOffset": {"field": "g", "type": "nominal", "scale": {"domain": ["V-NO", "V-PCO", "PCOS-A", "PCOS-T"]}},
    "y": {"field": "pct", "type": "quantitative", "scale": {"domain": [0, 50]}, "axis": {"title": "Percent", "values": [0, 10, 20, 30, 40, 50], "labelOverlap": false}},
    "color": {"field": "g", "type": "nominal", "scale": {"domain": ["V-NO", "V-PCO", "PCOS-A", "PCOS-T"], "range": ["#ffffff", "#c4c4c4", "#9a9a9a", "#000000"]},
     "legend": {"orient": "top-right", "title": null, "offset": 1, "strokeColor": "#555", "fillColor": "#fff", "padding": 5, "symbolType": "square", "symbolStrokeColor": "#000", "symbolStrokeWidth": 1, "symbolSize": 55, "labelFontSize": 12, "labelFontWeight": "bold", "rowPadding": 3,
      "labelExpr": "{'V-NO': '1. V-NO', 'V-PCO': '2. V-PCO', 'PCOS-A': '3. PCOS-A', 'PCOS-T': '4. PCOS-T'}[datum.label]"}}
   }
  },
  {
   "width": 191, "height": 180,
   "title": {"text": "B", "dx": -45},
   "layer": [
    {
     "data": {"name": "bData"},
     "transform": [{"lookup": "g", "from": {"data": {"name": "cohorts"}, "key": "g", "fields": ["cohort"]}}],
     "mark": {"type": "point", "filled": true, "size": 65, "strokeWidth": 1, "opacity": 1},
     "encoding": {
      "x": {"field": "t", "type": "nominal", "scale": {"domain": ["NO", "PFO", "PSO", "PFO×PSO"], "paddingInner": 0.4, "paddingOuter": 0.344}, "axis": {"title": "Polycystic Ovary Type", "titlePadding": -3, "labelAngle": -45, "labelAlign": "right", "labelFontSize": 13, "labelLineHeight": 14, "bandPosition": 0.5, "labelBaseline": {"condition": {"test": "datum.value == 'PFO×PSO'", "value": "middle"}, "value": "top"}, "labelExpr": "datum.value == 'PFO×PSO' ? ['PFO', '× PSO'] : datum.value"}},
      "xOffset": {"field": "cohort", "type": "nominal", "scale": {"domain": ["Volunteer", "PCOS-A", "PCOS-T"]}},
      "y": {"field": "amh", "type": "quantitative", "scale": {"domain": [0, 25]}, "axis": {"title": "AMH (ng/ml)", "values": [0, 5, 10, 15, 20, 25], "labelOverlap": false, "tickCount": 6}},
      "fill": {"field": "g", "type": "nominal", "scale": {"domain": ["V-NO", "V-PCO", "PCOS-A", "PCOS-T"], "range": ["#ffffff", "#ffffff", "#a8a8a8", "#1c1c1c"]}, "legend": {"orient": "bottom", "direction": "horizontal", "title": null, "symbolSize": 110, "symbolStrokeWidth": 1, "labelFontSize": 13, "labelFontWeight": "bold", "columnPadding": 7, "offset": 1, "labelExpr": "{'V-NO': '1. V-NO', 'V-PCO': '2. V-PCO', 'PCOS-A': '3. PCOS-A', 'PCOS-T': '4. PCOS-T'}[datum.label]"}},
      "stroke": {"field": "g", "type": "nominal", "scale": {"domain": ["V-NO", "V-PCO", "PCOS-A", "PCOS-T"], "range": ["#3c3c3c", "#4a4a4a", "#6a6a6a", "#000000"]}, "legend": {"orient": "bottom", "direction": "horizontal", "title": null, "symbolSize": 110, "symbolStrokeWidth": 1, "labelFontSize": 13, "labelFontWeight": "bold", "columnPadding": 7, "offset": 1, "labelExpr": "{'V-NO': '1. V-NO', 'V-PCO': '2. V-PCO', 'PCOS-A': '3. PCOS-A', 'PCOS-T': '4. PCOS-T'}[datum.label]"}},
      "shape": {"field": "g", "type": "nominal", "scale": {"domain": ["V-NO", "V-PCO", "PCOS-A", "PCOS-T"], "range": ["triangle-up", "circle", "diamond", "diamond"]}, "legend": {"orient": "bottom", "direction": "horizontal", "title": null, "symbolSize": 110, "symbolStrokeWidth": 1, "labelFontSize": 13, "labelFontWeight": "bold", "columnPadding": 7, "offset": 1, "labelExpr": "{'V-NO': '1. V-NO', 'V-PCO': '2. V-PCO', 'PCOS-A': '3. PCOS-A', 'PCOS-T': '4. PCOS-T'}[datum.label]"}}
     }
    },
    {
     "data": {"name": "brackets"},
     "mark": {"type": "line", "interpolate": "basis", "stroke": "#333", "strokeWidth": 1},
     "encoding": {"x": {"field": "t", "type": "nominal"}, "y": {"field": "amh", "type": "quantitative"}, "detail": {"field": "br"}, "order": {"field": "o"}}
    },
    {
     "data": {"values": [{}]},
     "mark": {"type": "text", "fontSize": 12, "fontWeight": "bold", "baseline": "middle", "dx": 22},
     "encoding": {"x": {"datum": "NO"}, "y": {"datum": 20.5}, "text": {"value": "*"}}
    },
    {
     "data": {"values": [{}]},
     "mark": {"type": "text", "fontSize": 12, "fontWeight": "bold", "baseline": "middle"},
     "encoding": {"x": {"datum": "PFO"}, "y": {"datum": 22.5}, "text": {"value": "***"}}
    },
    {
     "data": {"values": [{}]},
     "mark": {"type": "text", "fontSize": 12, "fontWeight": "bold", "baseline": "middle", "dx": 26},
     "encoding": {"x": {"datum": "PFO"}, "y": {"datum": 24.6}, "text": {"value": "***"}}
    }
   ]
  },
  {
   "width": 195, "height": 180,
   "title": {"text": "C", "dx": -43},
   "layer": [
    {
     "data": {"name": "cData"},
     "mark": {"type": "point", "filled": true, "size": 65, "strokeWidth": 1, "opacity": 1},
     "encoding": {
      "x": {"field": "age", "type": "quantitative", "scale": {"domain": [10, 40]}, "axis": {"title": "Age (years)", "values": [10, 20, 30, 40], "labelOverlap": false}},
      "y": {"field": "amh", "type": "quantitative", "scale": {"domain": [0, 25]}, "axis": {"title": "AMH (ng/ml)", "values": [0, 5, 10, 15, 20, 25], "labelOverlap": false, "tickCount": 6}},
      "fill": {"field": "g", "type": "nominal"},
      "stroke": {"field": "g", "type": "nominal"},
      "shape": {"field": "g", "type": "nominal"}
     }
    },
    {
     "data": {"values": [{"age": 11, "amh": 4.4}, {"age": 39.6, "amh": 1.0}]},
     "mark": {"type": "line", "stroke": "#000", "strokeWidth": 1.2},
     "encoding": {"x": {"field": "age", "type": "quantitative"}, "y": {"field": "amh", "type": "quantitative"}}
    },
    {
     "data": {"values": [{}]},
     "mark": {"type": "rect", "fill": "#fff", "stroke": "#555", "strokeWidth": 1},
     "encoding": {"x": {"datum": 29.9}, "x2": {"datum": 40}, "y": {"datum": 20.9}, "y2": {"datum": 25}}
    },
    {
     "data": {"values": [{}]},
     "mark": {"type": "rule", "stroke": "#000", "strokeWidth": 1.5},
     "encoding": {"x": {"datum": 30.7}, "x2": {"datum": 33.4}, "y": {"datum": 23.8}}
    },
    {
     "data": {"values": [{}]},
     "mark": {"type": "text", "align": "right", "baseline": "middle", "fontSize": 11},
     "encoding": {"x": {"datum": 39.4}, "y": {"datum": 23.8}, "text": {"value": "V-NO"}}
    },
    {
     "data": {"values": [{}]},
     "mark": {"type": "text", "align": "right", "baseline": "middle", "fontSize": 11},
     "encoding": {"x": {"datum": 39.4}, "y": {"datum": 21.9}, "text": {"value": "r = -0.535"}}
    }
   ]
  },
  {
   "width": 195, "height": 181,
   "title": {"text": "D", "dx": -40},
   "layer": [
    {
     "data": {"name": "dData"},
     "mark": {"type": "point", "filled": true, "size": 65, "strokeWidth": 1, "opacity": 1},
     "encoding": {
      "x": {"field": "vol", "type": "quantitative", "scale": {"domain": [0, 45]}, "axis": {"title": "Maximum Ovarian Volume (cc)", "values": [0, 10, 20, 30, 40], "labelOverlap": false}},
      "y": {"field": "amh", "type": "quantitative", "scale": {"domain": [0, 25]}, "axis": {"title": "AMH (ng/ml)", "values": [0, 5, 10, 15, 20, 25], "labelOverlap": false, "tickCount": 6}},
      "fill": {"field": "g", "type": "nominal"},
      "stroke": {"field": "g", "type": "nominal"},
      "shape": {"field": "g", "type": "nominal"}
     }
    },
    {
     "data": {"values": [{"vol": 2.4, "amh": 4.5}, {"vol": 41.5, "amh": 13.2}]},
     "mark": {"type": "line", "stroke": "#000", "strokeWidth": 2.5},
     "encoding": {"x": {"field": "vol", "type": "quantitative"}, "y": {"field": "amh", "type": "quantitative"}}
    },
    {
     "data": {"values": [{}]},
     "mark": {"type": "text", "align": "right", "baseline": "middle", "fontSize": 11},
     "encoding": {"x": {"datum": 44}, "y": {"datum": 23.8}, "text": {"value": "r = 0.331"}}
    }
   ]
  },
  {
   "width": 191, "height": 181,
   "title": {"text": "E", "dx": -43},
   "layer": [
    {
     "data": {"name": "eData"},
     "mark": {"type": "point", "filled": true, "size": 65, "strokeWidth": 1, "opacity": 1},
     "encoding": {
      "x": {"field": "testo", "type": "quantitative", "scale": {"domain": [0, 100]}, "axis": {"title": "SDAST Total Testo. (ng/dl)", "values": [0, 20, 40, 60, 80, 100], "labelOverlap": false, "tickCount": 6}},
      "y": {"field": "amh", "type": "quantitative", "scale": {"domain": [0, 25]}, "axis": {"title": "AMH (ng/ml)", "values": [0, 5, 10, 15, 20, 25], "labelOverlap": false, "tickCount": 6}},
      "fill": {"field": "g", "type": "nominal"},
      "stroke": {"field": "g", "type": "nominal"},
      "shape": {"field": "g", "type": "nominal"}
     }
    },
    {
     "data": {"values": [{}]},
     "mark": {"type": "rule", "stroke": "#000", "strokeWidth": 1.2, "strokeDash": [6, 4]},
     "encoding": {"x": {"datum": 27.5}}
    },
    {
     "data": {"values": [{}]},
     "mark": {"type": "rule", "stroke": "#000", "strokeWidth": 1.2, "strokeDash": [6, 4]},
     "encoding": {"y": {"datum": 6.3}}
    },
    {
     "data": {"values": [{"testo": 4, "amh": 3.3}, {"testo": 94, "amh": 14.0}]},
     "mark": {"type": "line", "stroke": "#000", "strokeWidth": 2.5},
     "encoding": {"x": {"field": "testo", "type": "quantitative"}, "y": {"field": "amh", "type": "quantitative"}}
    },
    {
     "data": {"values": [{}]},
     "mark": {"type": "text", "align": "right", "baseline": "middle", "fontSize": 11},
     "encoding": {"x": {"datum": 97.5}, "y": {"datum": 23.8}, "text": {"value": "r = 0.513"}}
    }
   ]
  },
  {
   "width": 195, "height": 181,
   "title": {"text": "F", "dx": -39},
   "layer": [
    {
     "data": {"name": "fData"},
     "mark": {"type": "point", "filled": true, "size": 65, "strokeWidth": 1, "opacity": 1},
     "encoding": {
      "x": {"field": "ohp", "type": "quantitative", "scale": {"domain": [0, 700]}, "axis": {"title": "GnRHag Test 17OHP Peak (ng/dl)", "values": [0, 100, 200, 300, 400, 500, 600, 700], "labelOverlap": false, "tickCount": 8, "labelFontSize": 13}},
      "y": {"field": "amh", "type": "quantitative", "scale": {"domain": [0, 25]}, "axis": {"title": "AMH (ng/ml)", "values": [0, 5, 10, 15, 20, 25], "labelOverlap": false, "tickCount": 6}},
      "fill": {"field": "g", "type": "nominal"},
      "stroke": {"field": "g", "type": "nominal"},
      "shape": {"field": "g", "type": "nominal"}
     }
    },
    {
     "data": {"values": [{}]},
     "mark": {"type": "rule", "stroke": "#000", "strokeWidth": 1.2, "strokeDash": [6, 4]},
     "encoding": {"x": {"datum": 142}}
    },
    {
     "data": {"values": [{}]},
     "mark": {"type": "rule", "stroke": "#000", "strokeWidth": 1.2, "strokeDash": [6, 4]},
     "encoding": {"y": {"datum": 6.2}}
    },
    {
     "data": {"values": [{"ohp": 30, "amh": 4.0}, {"ohp": 670, "amh": 15.8}]},
     "mark": {"type": "line", "stroke": "#000", "strokeWidth": 2.5},
     "encoding": {"x": {"field": "ohp", "type": "quantitative"}, "y": {"field": "amh", "type": "quantitative"}}
    },
    {
     "data": {"values": [{}]},
     "mark": {"type": "text", "align": "right", "baseline": "middle", "fontSize": 11},
     "encoding": {"x": {"datum": 685}, "y": {"datum": 23.8}, "text": {"value": "r = 0.489"}}
    }
   ]
  }
 ],
 "config": {
  "font": "Liberation Sans",
  "view": {"stroke": "#8c8c8c", "strokeWidth": 1},
  "axis": {"grid": false, "labelOverlap": false, "labelFlush": false, "labelSeparation": 0, "domainColor": "#000", "domainWidth": 1, "tickColor": "#000", "tickSize": 4, "labelFont": "Liberation Sans", "labelFontSize": 14, "labelFontWeight": "bold", "labelColor": "#000", "titleFont": "Liberation Sans", "titleFontSize": 15, "titleFontWeight": "bold", "titleColor": "#000", "labelPadding": 2, "titlePadding": 3},
  "title": {"font": "Liberation Sans", "fontSize": 22, "fontWeight": "bold", "color": "#000", "anchor": "start", "frame": "group", "offset": -12, "baseline": "alphabetic"},
  "legend": {"labelFont": "Liberation Sans", "labelColor": "#000", "layout": {"bottom": {"anchor": "middle"}}}
 }
}
